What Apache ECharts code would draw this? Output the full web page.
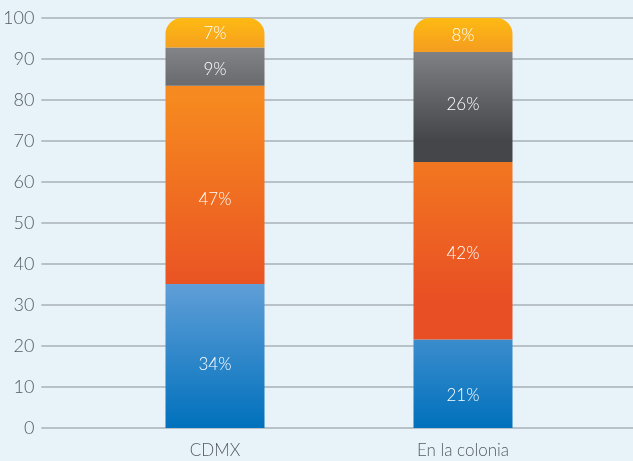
<!DOCTYPE html>
<html>
<head>
<meta charset="utf-8">
<script src="https://cdn.jsdelivr.net/npm/echarts@6/dist/echarts.min.js"></script>
<style>
  html, body { margin: 0; padding: 0; background: #e8f2f9; }
  #chart { width: 633px; height: 461px; }
</style>
</head>
<body>
<div id="chart"></div>
<script>
const categories = ["CDMX", "En la colonia"];
const yTicks = [0, 10, 20, 30, 40, 50, 60, 70, 80, 90, 100];

// bar heights (stacked to 100)
const blueValues = [35.1, 21.6];
const orangeValues = [48.4, 43.3];
const grayValues = [9.3, 26.8];
const yellowValues = [7.2, 8.3];

// printed percentages
const blueLabels = ["34%", "21%"];
const orangeLabels = ["47%", "42%"];
const grayLabels = ["9%", "26%"];
const yellowLabels = ["7%", "8%"];

const font = "Lato, 'Open Sans', sans-serif";

function grad(y0, c0, y1, c1) {
  return new echarts.graphic.LinearGradient(0, y0, 0, y1, [
    { offset: 0, color: c0 },
    { offset: 1, color: c1 },
  ], true);
}

// label nudges (px) per bar, to sit where the original put them
function segment(name, values, labels, color, nudges, extra) {
  return Object.assign({
    name,
    type: "bar",
    stack: "total",
    xAxisIndex: 1,
    yAxisIndex: 1,
    barWidth: 99,
    data: values.map((v, i) => ({ value: v, label: { offset: [0, nudges[i]] } })),
    itemStyle: { color },
    label: {
      show: true,
      position: "inside",
      color: "#ffffff",
      fontFamily: font,
      fontWeight: 300,
      fontSize: 17,
      formatter: (p) => labels[p.dataIndex],
    },
  }, extra || {});
}

const chart = echarts.init(document.getElementById("chart"));
chart.setOption({
  backgroundColor: "#e8f2f9",
  animation: false,
  grid: [
    { left: 41, right: 0, top: 18, bottom: 33 },
    { left: 91, right: 46, top: 18, bottom: 33 },
  ],
  xAxis: [
    { gridIndex: 0, type: "category", data: [""], show: false },
    {
      gridIndex: 1,
      type: "category",
      data: categories,
      axisLine: { show: false },
      axisTick: { show: false },
      axisLabel: { color: "#555a60", fontFamily: font, fontWeight: 300, fontSize: 17, margin: 14 },
    },
  ],
  yAxis: [
    {
      gridIndex: 0,
      type: "value",
      min: 0,
      max: 100,
      interval: 10,
      axisLine: { show: false },
      axisTick: { show: false },
      axisLabel: {
        color: "#555a60",
        fontFamily: font,
        fontWeight: 300,
        fontSize: 18,
        margin: 7,
        formatter: (v) => (yTicks.includes(v) ? String(v) : ""),
      },
      splitLine: { lineStyle: { color: "#a8afb7", width: 1.5 } },
    },
    { gridIndex: 1, type: "value", min: 0, max: 100, show: false },
  ],
  series: [
    segment("blue", blueValues, blueLabels, grad(428, "#0071bc", 285, "#5f9ed7"), [8, 12]),
    segment("orange", orangeValues, orangeLabels, grad(300, "#e94f24", 100, "#f6891f"), [15, 3]),
    segment("gray", grayValues, grayLabels, grad(140, "#45464a", 50, "#818286"), [3, -2]),
    segment("yellow", yellowValues, yellowLabels, grad(50, "#f59e1f", 18, "#fdba12"), [1, 1], {
      itemStyle: { color: grad(50, "#f59e1f", 18, "#fdba12"), borderRadius: [16, 16, 0, 0] },
    }),
  ],
});
</script>
</body>
</html>
